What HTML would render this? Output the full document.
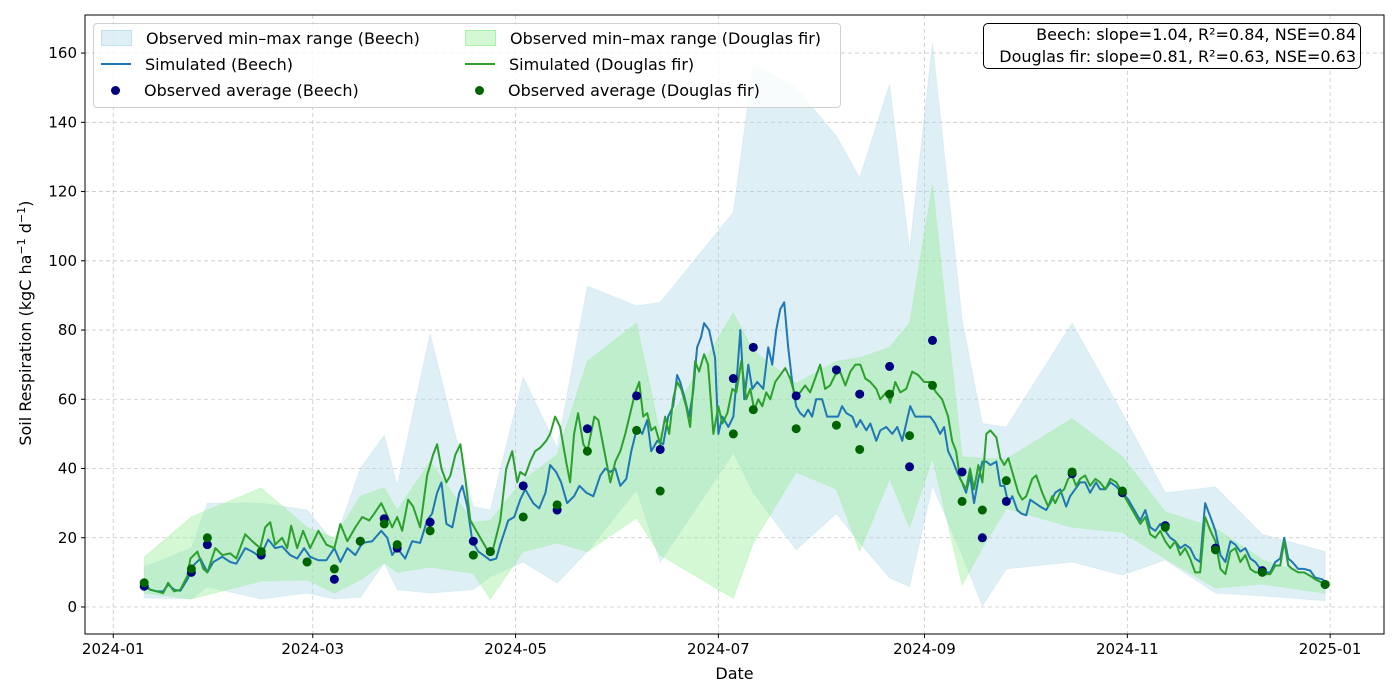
<!DOCTYPE html>
<html><head><meta charset="utf-8"><style>
body{margin:0;background:#fff;font-family:"DejaVu Sans","Liberation Sans",sans-serif;}
svg text{font-family:"DejaVu Sans","Liberation Sans",sans-serif;}
</style></head><body>
<svg id="chart" width="1400" height="695" xmlns="http://www.w3.org/2000/svg"></svg>
<script>
const tickDays=[0,60,121,182,244,305,366];
const tickLabels=["2024-01","2024-03","2024-05","2024-07","2024-09","2024-11","2025-01"];
const yTicks=[0,20,40,60,80,100,120,140,160];
const obsDays=[9.3,23.5,28.3,44.5,58.3,66.5,74.3,81.5,85.4,95.3,108.3,113.4,123.3,133.5,142.6,157.4,164.5,186.5,192.5,205.4,217.5,224.5,233.5,239.5,246.4,255.3,261.4,268.6,288.4,303.5,316.4,331.5,345.6,364.5];
const beechAvg=[6,10,18,15,13,8,19,25.5,17,24.5,19,16,35,28,51.5,61,45.5,66,75,61,68.5,61.5,69.5,40.5,77,39,20,30.5,38.5,33,23.5,17,10.5,6.5];
const firAvg=[7,11,20,16,13,11,19,24,18,22,15,16,26,29.5,45,51,33.5,50,57,51.5,52.5,45.5,61.5,49.5,64,30.5,28,36.5,39,33.5,23,16.5,10,6.5];
const beechMax=[11.6,17,30,30,28,18.5,40,49.6,35,79,29,28,66.4,46,92.7,87,88,114,157,150,136,124,151,103,163,83,53,52,82,56,33,34.7,21,16];
const beechMin=[2.6,2.3,5.8,2.3,4,2.3,2.8,12.7,5,4,5,8.7,13,6.9,16,33.8,13,44.5,33,16.5,27,18.5,8.4,5.9,35,15,0.3,11,13,9.2,13.6,4,3.2,1.8];
const firMax=[14.4,26,28,34.4,23,20,32,34.4,28,42,24.5,25,36.7,44,71,82,50,85,74,64.6,71,72,75,82,122,43.4,43,42.7,54.4,43.4,27.5,22.8,13.6,7.8];
const firMin=[4,2.3,3.5,7.5,7.8,4,7.8,12.7,10,11.5,9.7,2.3,16,18.5,16,25.7,15,2.5,18.5,39,34,16,37,23,43,6.3,17,28.5,23,21.6,14,5.5,6.6,4];
const beechSimDays=[9.3,11.1,13.2,15.0,16.5,18.3,20.2,22.3,24.1,26.2,28.3,30.1,32.8,35.2,37.0,39.7,41.8,44.2,46.6,48.7,50.8,53.2,55.3,57.4,59.2,61.7,64.1,66.5,68.3,70.4,72.8,74.9,77.9,80.6,82.4,83.9,85.4,87.8,89.9,92.3,94.4,95.9,97.4,98.7,100.2,102.0,104.1,105.0,106.5,108.0,109.8,111.3,113.4,115.2,116.4,118.8,120.6,122.4,123.9,126.3,128.1,130.0,131.4,133.2,134.7,136.5,138.6,140.2,142.3,144.4,146.5,148.0,149.5,151.0,152.5,154.3,155.8,157.6,159.1,160.6,161.8,163.6,165.4,166.9,168.4,169.6,170.5,171.7,173.2,174.4,175.6,176.8,177.7,179.2,181.0,182.0,183.2,185.0,186.5,187.7,188.6,189.8,191.0,192.2,193.7,195.5,197.0,198.2,199.4,200.6,201.8,203.0,204.2,205.4,206.6,207.8,209.0,210.2,211.4,213.2,214.7,216.2,218.0,219.2,220.5,222.3,223.5,224.7,226.5,227.7,229.5,230.7,232.5,234.3,235.8,237.3,238.5,239.7,241.2,242.7,244.5,245.7,247.2,248.7,249.9,251.1,252.6,253.8,255.3,256.5,257.7,258.9,260.2,261.4,262.6,263.8,265.6,266.8,268.0,269.2,270.4,271.9,273.1,274.6,275.8,277.3,278.8,280.6,281.8,283.3,284.8,286.6,287.8,289.3,290.8,292.3,293.8,295.6,296.8,298.4,299.9,301.4,303.5,305.3,307.1,308.9,310.4,311.9,313.4,314.9,316.4,317.9,319.4,320.9,322.4,323.9,325.4,326.9,328.4,330.0,331.5,333.0,334.5,336.0,337.5,339.0,340.5,342.0,343.5,345.0,346.5,348.0,349.5,351.0,352.2,353.4,354.6,356.4,358.2,360.0,361.5,363.6,364.8];
const beechSim=[6,5,4.5,4.5,6.5,5,4.7,8,12,14,10,13,14.5,13,12.5,17,16,14.5,19.5,17,17.5,15,14,17,14.5,13.5,13.5,17,13,17,15,18.5,19,22,20,15,17,14,19,18.5,25,27,33,36,24,23,33,35,29,19,16,15,13.5,14,18,25,26,31,34,30,28.5,33,41,39,36,30,32,35,33,32,38,40,39,40,35,37,45,52,50,54,45,48,47,55,58,67,65,61,55,62,75,78,82,80,72,50,55,52,55,68,80,60,70,63,65,63,75,70,80,86,88,75,65,58,56,55,57,55,60,60,55,55,55,58,56,55,52,54,51,53,48,51,52,50,52,48,53,58,55,55,55,55,53,50,52,45,42,39,36,33,38,30,37,42,42,41,42,35,35,30,32,28,27,26.5,31,30,29,28,30,33,34,29,32,34,36,36,33,36,34,34,36,35,33,31,28,25,28,23,22,24,22,20,19,17,18,17,14,13,30,26,22,15,13,19,18,16,17,14,13,11,10,10,13,14,20,14,13,11,11,10.5,8.5,8,7];
const firSimDays=[9.3,11.1,13.2,15.0,16.5,18.3,20.2,22.3,23.2,25.3,27.1,28.3,30.7,32.8,35.2,37.0,39.7,41.8,44.2,45.7,47.2,48.7,50.8,52.3,53.5,55.3,57.1,59.2,61.7,64.1,66.5,68.3,70.4,72.8,74.9,77.0,78.5,80.6,82.1,83.9,85.4,86.9,88.7,90.2,92.3,94.4,96.2,97.4,98.7,100.2,101.4,102.9,104.4,105.9,107.4,109.2,111.0,112.8,114.3,116.4,118.2,120.0,121.5,122.4,123.9,125.4,126.9,128.4,130.2,131.4,132.9,134.4,136.2,137.4,138.6,139.8,141.4,142.6,144.7,145.9,147.7,149.5,151.0,152.5,154.0,155.5,157.0,158.2,159.4,160.6,161.8,163.0,164.5,166.0,167.2,168.4,169.6,170.8,172.3,173.5,175.0,176.2,177.7,178.9,180.5,182.0,183.2,184.7,186.2,187.4,188.9,190.4,191.6,192.8,194.0,195.2,196.4,197.6,199.1,200.6,202.1,203.6,205.1,206.6,208.1,209.6,211.1,212.6,214.1,215.6,217.1,218.6,220.2,221.7,223.2,224.7,226.2,227.7,229.5,230.7,232.5,233.7,235.2,236.7,238.5,240.3,242.1,243.9,245.7,247.5,249.3,251.1,252.3,253.5,254.7,256.5,257.7,258.9,260.2,261.4,262.6,263.8,265.6,266.8,268.0,269.2,271.0,272.2,273.4,274.6,276.4,277.6,279.4,281.2,282.4,283.3,284.8,286.0,287.2,288.4,289.6,290.8,292.3,293.8,295.4,296.8,298.4,299.9,301.7,303.5,305.3,307.1,308.9,310.4,311.9,313.4,314.9,316.4,317.9,319.4,320.9,322.4,323.9,325.4,326.9,328.4,330.0,331.5,333.0,334.5,336.0,337.5,339.0,340.5,342.0,343.5,345.0,346.5,348.0,349.5,351.0,352.2,353.4,354.6,356.4,358.2,360.0,361.5,363.6,364.8];
const firSim=[7,5,4.5,4,7,4.5,5,9,14,16,11,10,17,15,15.5,14,21,19,17,23,24.5,18,20,17,23.5,17,22,17,22,18,17,24,19,23,26,25,27,30,27,23,26,22,31,29,23,38,44,47,40,36,38,44,47,37,25,22,19,16,17,25,40,45,36,39,38,42,45,46,48,50,55,52,42,36,50,56,47,45,55,54,45,36,42,45,50,56,62,65,55,56,51,52,47,55,50,60,65,63,58,52,71,68,73,70,50,58,53,56,63,62,71,60,63,57,60,58,62,60,65,67,69,66,61,62,64,62,66,70,63,64,67,68,64,68,70,70,66,65,63,60,62,59,65,62,63,68,67,65,65,62,60,55,48,45,37,34,40,34,41,36,50,51,49,43,41,43,37,33,31,32,37,38,33,29,32,30,33,34,37,38,35,37,38,35,37,36,34,37,36,33,30,27,24,26,21,20,22,19,17,19,15,17,14,10,10,26,22,19,11,9.5,16,17,13,15,11,10,10,9.5,9.5,12,12,19,12,11,10,10,9,8,7,6.5];

const NS="http://www.w3.org/2000/svg";
const svg=document.getElementById('chart');
const L=85,R=1384,T=15,B=634;
const xMin=-8.5,xMax=382.2,yMin=-7.8,yMax=171;
function xs(d){return L+(d-xMin)/(xMax-xMin)*(R-L);}
function ys(v){return B-(v-yMin)/(yMax-yMin)*(B-T);}
function el(tag,attrs,parent){const e=document.createElementNS(NS,tag);for(const k in attrs)e.setAttribute(k,attrs[k]);(parent||svg).appendChild(e);return e;}

// grid
const grid=el('g',{});


tickDays.forEach(d=>{const l=el('line',{x1:xs(d),x2:xs(d),y1:T,y2:B,stroke:'#b0b0b0','stroke-width':0.8,'stroke-dasharray':'4,3','stroke-opacity':0.7},grid);

});
yTicks.forEach(v=>{const l=el('line',{x1:L,x2:R,y1:ys(v),y2:ys(v),stroke:'#b0b0b0','stroke-width':0.8,'stroke-dasharray':'4,3','stroke-opacity':0.7},grid);

});

function band(days,lo,hi,fill,op,name){
  let d='M'+days.map((t,i)=>xs(t)+','+ys(hi[i])).join('L');
  for(let i=days.length-1;i>=0;i--)d+='L'+xs(days[i])+','+ys(lo[i]);
  const p=el('path',{d:d+'Z',fill:fill,'fill-opacity':op,stroke:fill,'stroke-opacity':op*0.6,'stroke-width':1});
  
  
}
band(obsDays,beechMin,beechMax,'#add8e6',0.4,'beech-range-band');
band(obsDays,firMin,firMax,'#90ee90',0.4,'fir-range-band');

function line(days,vals,color,name){
  const p=el('polyline',{points:days.map((t,i)=>xs(t)+','+ys(vals[i])).join(' '),fill:'none',stroke:color,'stroke-width':2,'stroke-linejoin':'round'});
  
  
}
line(beechSimDays,beechSim,'#1f77b4','beech-simulated-line');
line(firSimDays,firSim,'#2ca02c','fir-simulated-line');

obsDays.forEach((t,i)=>{const c=el('circle',{cx:xs(t),cy:ys(beechAvg[i]),r:4.5,fill:'#000080'});

});
obsDays.forEach((t,i)=>{const c=el('circle',{cx:xs(t),cy:ys(firAvg[i]),r:4.5,fill:'#006400'});

});

// frame
const fr=el('rect',{x:L,y:T,width:R-L,height:B-T,fill:'none',stroke:'#000','stroke-width':1});



tickDays.forEach((d,i)=>{el('line',{x1:xs(d),x2:xs(d),y1:B,y2:B+4,stroke:'#000'});
const t=el('text',{x:xs(d),y:B+20,'font-size':15,'text-anchor':'middle',fill:'#000'});t.textContent=tickLabels[i];

});
yTicks.forEach(v=>{el('line',{x1:L-4,x2:L,y1:ys(v),y2:ys(v),stroke:'#000'});
const t=el('text',{x:L-8,y:ys(v)+5,'font-size':15,'text-anchor':'end',fill:'#000'});t.textContent=v;

});
</script>
<div style="position:absolute;left:0;width:1469px;top:664px;text-align:center;font-size:16px;">Date</div>
<div style="position:absolute;left:-110px;top:313px;width:270px;text-align:center;font-size:16px;transform:rotate(-90deg);white-space:nowrap;">Soil Respiration (kgC ha<sup style="font-size:11px">−1</sup> d<sup style="font-size:11px">−1</sup>)</div>
<div style="position:absolute;left:93px;top:23px;width:746px;height:83px;border:1px solid #d0d0d0;border-radius:4px;background:rgba(255,255,255,0.8);font-size:16px;">
 <div style="position:absolute;left:7px;top:5px;white-space:nowrap"><span style="display:inline-block;width:29px;height:14px;background:rgba(173,216,230,0.4);border:1px solid rgba(173,216,230,0.6);vertical-align:-2px;margin-right:14px"></span>Observed min–max range (Beech)</div>
 <div style="position:absolute;left:7px;top:31px;white-space:nowrap"><span style="display:inline-block;width:30px;height:2px;background:#1f77b4;vertical-align:5px;margin-right:14px"></span>Simulated (Beech)</div>
 <div style="position:absolute;left:7px;top:57px;white-space:nowrap"><span style="display:inline-block;width:9px;height:9px;border-radius:50%;background:#000080;margin:0 24px 0 10px;vertical-align:1px"></span>Observed average (Beech)</div>
 <div style="position:absolute;left:371px;top:5px;white-space:nowrap"><span style="display:inline-block;width:29px;height:14px;background:rgba(144,238,144,0.4);border:1px solid rgba(144,238,144,0.6);vertical-align:-2px;margin-right:14px"></span>Observed min–max range (Douglas fir)</div>
 <div style="position:absolute;left:371px;top:31px;white-space:nowrap"><span style="display:inline-block;width:30px;height:2px;background:#2ca02c;vertical-align:5px;margin-right:14px"></span>Simulated (Douglas fir)</div>
 <div style="position:absolute;left:371px;top:57px;white-space:nowrap"><span style="display:inline-block;width:9px;height:9px;border-radius:50%;background:#006400;margin:0 24px 0 10px;vertical-align:1px"></span>Observed average (Douglas fir)</div>
</div>
<div style="position:absolute;left:983px;top:23px;width:368px;height:44px;border:1px solid #000;border-radius:5px;background:#fff;font-size:16px;text-align:right;padding:0 4px;line-height:22px;box-sizing:content-box;">Beech: slope=1.04, R²=0.84, NSE=0.84<br>Douglas fir: slope=0.81, R²=0.63, NSE=0.63</div>
</body></html>
